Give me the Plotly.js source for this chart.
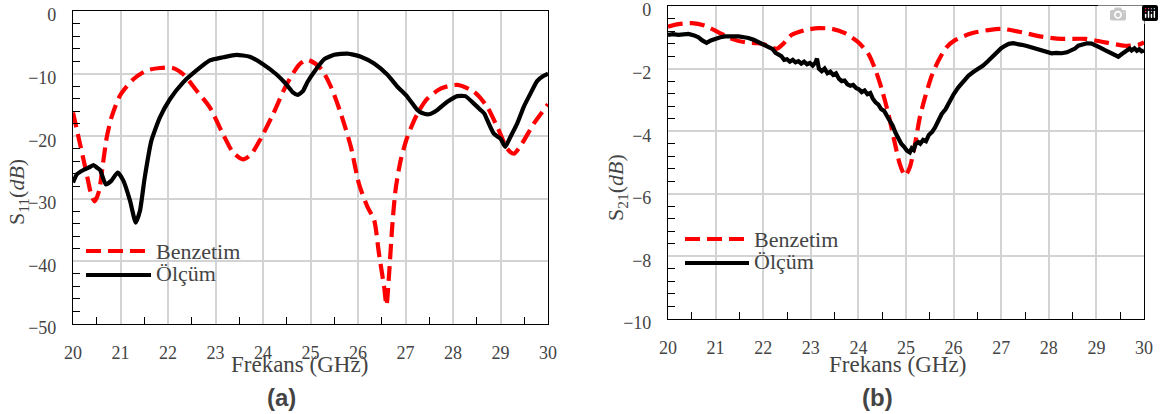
<!DOCTYPE html>
<html>
<head>
<meta charset="utf-8">
<script src="https://cdn.plot.ly/plotly-3.0.1.min.js"></script>
</head>
<body style="margin:0">
<div id="chart"></div>
<script>
// (a) S11 — simulated (Benzetim)
const s11SimFreq = [20.0, 20.15, 20.29, 20.39, 20.46, 20.55, 20.62, 20.71, 20.81, 20.99, 21.27, 21.55, 21.83, 22.1, 22.32, 22.6, 22.88, 23.16, 23.37, 23.58, 23.75, 23.93, 24.21, 24.5, 24.77, 24.94, 25.22, 25.43, 25.64, 25.85, 26.02, 26.2, 26.34, 26.44, 26.55, 26.6, 26.65, 26.72, 26.79, 26.9, 27.04, 27.25, 27.46, 27.74, 28.09, 28.44, 28.72, 28.96, 29.14, 29.28, 29.45, 29.7, 30.0];
const s11SimDb = [-16.2, -21.3, -26.1, -29.5, -30.4, -28.7, -25.0, -20.2, -17.0, -13.5, -10.9, -9.5, -9.1, -9.1, -10.1, -12.7, -15.4, -19.7, -22.6, -23.7, -22.9, -20.7, -16.5, -11.7, -8.5, -7.8, -9.2, -12.1, -16.4, -21.7, -27.6, -31.3, -33.4, -38.7, -44.1, -47.0, -42.5, -34.5, -28.6, -23.8, -20.1, -16.4, -14.0, -12.4, -11.8, -12.9, -15.3, -19.0, -22.0, -22.8, -21.2, -18.0, -14.9];

// (a) S11 — measured (Ölçüm)
const s11MeasFreq = [20.0, 20.08, 20.22, 20.36, 20.43, 20.5, 20.57, 20.69, 20.81, 20.94, 21.06, 21.2, 21.32, 21.41, 21.51, 21.65, 21.83, 22.04, 22.32, 22.6, 22.88, 23.16, 23.44, 23.72, 24.0, 24.28, 24.49, 24.63, 24.73, 24.84, 24.94, 25.08, 25.29, 25.5, 25.78, 26.06, 26.34, 26.62, 26.83, 27.04, 27.25, 27.35, 27.49, 27.67, 27.88, 28.09, 28.26, 28.44, 28.58, 28.66, 28.72, 28.86, 29.0, 29.1, 29.21, 29.35, 29.49, 29.63, 29.77, 29.9, 30.0];
const s11MeasDb = [-27.4, -26.1, -25.4, -24.9, -24.6, -25.0, -25.4, -27.7, -27.1, -25.8, -27.1, -30.3, -33.8, -31.9, -26.6, -20.7, -17.0, -14.1, -11.4, -9.5, -7.9, -7.4, -7.0, -7.3, -8.5, -10.1, -11.7, -13.0, -13.4, -12.8, -11.3, -9.7, -7.7, -7.0, -6.8, -7.3, -8.4, -10.2, -12.1, -13.7, -15.8, -16.3, -16.5, -15.8, -14.5, -13.6, -13.6, -14.8, -15.8, -16.4, -17.4, -19.6, -20.4, -21.7, -20.1, -18.0, -15.3, -13.2, -11.2, -10.4, -10.0];

// (b) S21 — simulated (Benzetim)
const s21SimFreq = [20.0, 20.22, 20.5, 20.78, 21.06, 21.34, 21.62, 21.9, 22.11, 22.28, 22.42, 22.6, 22.88, 23.16, 23.44, 23.72, 24.0, 24.21, 24.35, 24.49, 24.63, 24.77, 24.87, 24.98, 25.08, 25.19, 25.29, 25.4, 25.54, 25.68, 25.85, 26.03, 26.38, 26.73, 27.01, 27.43, 27.85, 28.27, 28.76, 29.18, 29.6, 29.88, 30.0];
const s21SimDb = [-0.66, -0.58, -0.55, -0.63, -0.84, -1.05, -1.16, -1.19, -1.27, -1.37, -1.21, -0.92, -0.77, -0.71, -0.73, -0.87, -1.16, -1.53, -2.01, -2.65, -3.45, -4.41, -5.05, -5.42, -5.15, -4.41, -3.56, -2.92, -2.23, -1.75, -1.32, -1.09, -0.87, -0.77, -0.73, -0.84, -0.98, -1.05, -1.05, -1.16, -1.27, -1.24, -1.16];

// (b) S21 — measured (Ölçüm)
const s21MeasFreq = [20.0, 20.1, 20.22, 20.32, 20.43, 20.55, 20.64, 20.72, 20.81, 20.9, 20.99, 21.1, 21.2, 21.35, 21.48, 21.6, 21.69, 21.8, 21.9, 22.0, 22.11, 22.2, 22.26, 22.32, 22.38, 22.44, 22.5, 22.56, 22.62, 22.68, 22.74, 22.8, 22.86, 22.92, 22.98, 23.04, 23.1, 23.13, 23.17, 23.23, 23.29, 23.35, 23.41, 23.47, 23.53, 23.59, 23.65, 23.71, 23.77, 23.83, 23.89, 23.95, 24.01, 24.07, 24.13, 24.19, 24.25, 24.3, 24.36, 24.42, 24.48, 24.54, 24.6, 24.66, 24.72, 24.78, 24.84, 24.9, 24.96, 25.02, 25.08, 25.12, 25.16, 25.2, 25.26, 25.3, 25.36, 25.42, 25.48, 25.55, 25.61, 25.68, 25.75, 25.83, 25.92, 26.0, 26.1, 26.2, 26.31, 26.42, 26.52, 26.62, 26.73, 26.82, 26.9, 27.0, 27.08, 27.16, 27.25, 27.34, 27.43, 27.54, 27.64, 27.75, 27.85, 27.95, 28.06, 28.16, 28.27, 28.38, 28.48, 28.55, 28.62, 28.7, 28.8, 28.9, 28.97, 29.08, 29.18, 29.3, 29.4, 29.46, 29.52, 29.6, 29.66, 29.7, 29.74, 29.8, 29.85, 29.9, 29.95, 30.0];
const s21MeasDb = [-0.92, -0.9, -0.92, -0.89, -0.89, -0.94, -1.0, -1.1, -1.18, -1.1, -1.05, -1.0, -0.97, -0.96, -0.97, -1.0, -1.02, -1.08, -1.16, -1.22, -1.32, -1.38, -1.5, -1.56, -1.6, -1.72, -1.7, -1.78, -1.72, -1.8, -1.76, -1.84, -1.78, -1.86, -1.82, -1.9, -1.8, -1.68, -2.0, -2.08, -2.0, -2.15, -2.1, -2.2, -2.15, -2.32, -2.4, -2.38, -2.5, -2.55, -2.52, -2.62, -2.66, -2.75, -2.7, -2.82, -2.78, -2.95, -3.08, -3.15, -3.3, -3.35, -3.5, -3.7, -3.82, -4.05, -4.25, -4.4, -4.5, -4.62, -4.68, -4.55, -4.6, -4.42, -4.35, -4.4, -4.28, -4.32, -4.12, -4.02, -3.88, -3.65, -3.45, -3.3, -3.02, -2.82, -2.6, -2.42, -2.23, -2.1, -2.01, -1.9, -1.75, -1.62, -1.48, -1.35, -1.27, -1.21, -1.19, -1.2, -1.24, -1.28, -1.32, -1.36, -1.43, -1.45, -1.51, -1.5, -1.51, -1.48, -1.43, -1.36, -1.27, -1.22, -1.19, -1.2, -1.24, -1.33, -1.41, -1.5, -1.58, -1.62, -1.55, -1.48, -1.42, -1.36, -1.42, -1.35, -1.43, -1.38, -1.45, -1.42];

const seriesNames = ['Benzetim', 'Ölçüm'];
const xTitle = 'Frekans (GHz)';
const panelLabels = ['(a)', '(b)'];

const W = 1164, H = 414;
const px = v => v / W;
const py = v => 1 - v / H;

const SERIF = 'Liberation Serif';
const SANS = 'Liberation Sans';
const RED = '#ff0000';
const DASH = '15px,7px';
const LW = 4.2;

// each text element picks only its face and size
const face = (family, size) => ({ family: family, size: size });

const traces = [
  { x: s11SimFreq, y: s11SimDb, xaxis: 'x', yaxis: 'y', mode: 'lines', name: seriesNames[0],
    line: { color: RED, width: LW, dash: DASH, shape: 'spline', smoothing: 0.7 } },
  { x: s11MeasFreq, y: s11MeasDb, xaxis: 'x', yaxis: 'y', mode: 'lines', name: seriesNames[1],
    line: { color: '#000000', width: LW, shape: 'spline', smoothing: 0.5 } },
  { x: s21SimFreq, y: s21SimDb, xaxis: 'x2', yaxis: 'y2', mode: 'lines', name: seriesNames[0],
    line: { color: RED, width: LW, dash: DASH, shape: 'spline', smoothing: 0.7 } },
  { x: s21MeasFreq, y: s21MeasDb, xaxis: 'x2', yaxis: 'y2', mode: 'lines', name: seriesNames[1],
    line: { color: '#000000', width: LW } }
];

function xAxis(domain, anchor) {
  return {
    domain: domain, anchor: anchor, range: [20, 30], dtick: 1, tick0: 20,
    showgrid: true, gridcolor: '#d3d3d3', gridwidth: 1.5,
    zeroline: false, showline: true, linecolor: '#000', linewidth: 1.2, mirror: true,
    ticks: '', tickfont: face(SERIF, 18), ticklabelstandoff: 12, ticklabeloverflow: 'allow',
    minor: { dtick: 0.5, ticks: 'inside', ticklen: 7, tickcolor: '#000', tickwidth: 1, showgrid: false },
    fixedrange: true
  };
}
function yAxis(domain, anchor, range, dtick, minorDtick) {
  return {
    domain: domain, anchor: anchor, range: range, dtick: dtick, tick0: 0,
    showgrid: true, gridcolor: '#d3d3d3', gridwidth: 1.5,
    zeroline: false, showline: true, linecolor: '#000', linewidth: 1.2, mirror: true,
    ticks: '', tickfont: face(SERIF, 18), ticklabelstandoff: 12, ticklabelshift: 4, ticklabeloverflow: 'allow',
    minor: { dtick: minorDtick, ticks: 'inside', ticklen: 7, tickcolor: '#000', tickwidth: 1, showgrid: false },
    fixedrange: true
  };
}

// plot frames in pixel coordinates
const A = { l: 73, r: 548, t: 11, b: 324 };
const B = { l: 668, r: 1144, t: 6, b: 319 };

const shapes = [];
const annotations = [];

// legends drawn inside each panel
function legend(x0, x1, yTop, yBot) {
  shapes.push({ type: 'line', xref: 'paper', yref: 'paper', x0: px(x0), x1: px(x1), y0: py(yTop), y1: py(yTop),
    line: { color: RED, width: LW, dash: DASH } });
  shapes.push({ type: 'line', xref: 'paper', yref: 'paper', x0: px(x0), x1: px(x1), y0: py(yBot), y1: py(yBot),
    line: { color: '#000', width: LW } });
  annotations.push({ xref: 'paper', yref: 'paper', x: px(x1 + 3), y: py(yTop), xanchor: 'left', yanchor: 'middle',
    text: seriesNames[0], showarrow: false, font: face(SERIF, 22) });
  annotations.push({ xref: 'paper', yref: 'paper', x: px(x1 + 3), y: py(yBot - 2), xanchor: 'left', yanchor: 'middle',
    text: seriesNames[1], showarrow: false, font: face(SERIF, 22) });
}
legend(86, 151, 251, 275);
legend(685, 749, 239, 263);

// axis titles
annotations.push({ xref: 'paper', yref: 'paper', x: px(300), y: py(364), xanchor: 'center', yanchor: 'middle',
  text: xTitle, showarrow: false, font: face(SERIF, 23) });
annotations.push({ xref: 'paper', yref: 'paper', x: px(897), y: py(364), xanchor: 'center', yanchor: 'middle',
  text: xTitle, showarrow: false, font: face(SERIF, 23) });
annotations.push({ xref: 'paper', yref: 'paper', x: px(18), y: py(192), xanchor: 'center', yanchor: 'middle',
  textangle: -90, text: 'S<sub>11</sub>(<i>dB</i>)', showarrow: false, font: face(SERIF, 22) });
annotations.push({ xref: 'paper', yref: 'paper', x: px(617), y: py(188), xanchor: 'center', yanchor: 'middle',
  textangle: -90, text: 'S<sub>21</sub>(<i>dB</i>)', showarrow: false, font: face(SERIF, 22) });

// panel letters
annotations.push({ xref: 'paper', yref: 'paper', x: px(281), y: py(397), xanchor: 'center', yanchor: 'middle',
  text: '<b>' + panelLabels[0] + '</b>', showarrow: false, font: face(SANS, 24) });
annotations.push({ xref: 'paper', yref: 'paper', x: px(877), y: py(397), xanchor: 'center', yanchor: 'middle',
  text: '<b>' + panelLabels[1] + '</b>', showarrow: false, font: face(SANS, 24) });

const layout = {
  width: W, height: H,
  margin: { l: 0, r: 0, t: 0, b: 0, pad: 0 },
  showlegend: false,
  xaxis: xAxis([px(A.l), px(A.r)], 'y'),
  yaxis: yAxis([py(A.b), py(A.t)], 'x', [-50, 0], 10, 2),
  xaxis2: xAxis([px(B.l), px(B.r)], 'y2'),
  yaxis2: yAxis([py(B.b), py(B.t)], 'x2', [-10, 0], 2, 0.4),
  shapes: shapes,
  annotations: annotations
};

Plotly.newPlot('chart', traces, layout);
</script>
</body>
</html>
